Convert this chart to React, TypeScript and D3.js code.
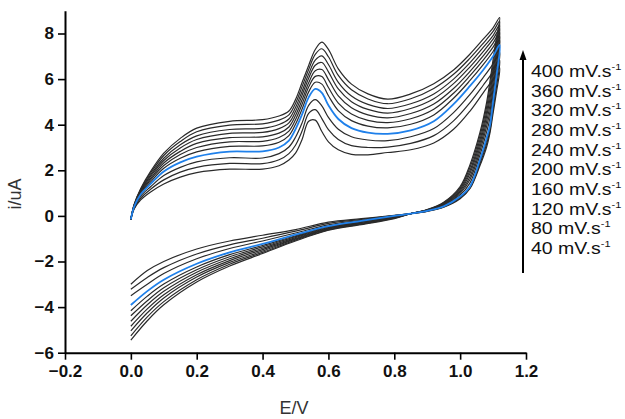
import * as d3 from 'd3';
import { useEffect, useRef } from 'react';

// potentials (V) of the anodic sweep and of the return sweep
const forwardE = [0, 0.01, 0.03, 0.06, 0.1, 0.15, 0.2, 0.3, 0.4, 0.45, 0.48, 0.5, 0.52, 0.54, 0.56, 0.58, 0.6, 0.63, 0.67, 0.72, 0.78, 0.85, 0.92, 0.98, 1.03, 1.07, 1.1, 1.12];
const reverseE = [1.11, 1.1, 1.09, 1.08, 1.06, 1.03, 1.0, 0.95, 0.9, 0.85, 0.8, 0.7, 0.6, 0.5, 0.4, 0.3, 0.2, 0.1, 0.05, 0.0];

// currents (uA), slowest scan first
const forwardI = [
  [-0.15, 0.3, 0.7, 1.05, 1.4, 1.7, 1.9, 2.05, 2.05, 2.2, 2.45, 2.75, 3.35, 4.15, 4.2, 3.7, 3.25, 2.9, 2.7, 2.68, 2.78, 2.9, 3.2, 3.8, 4.6, 5.4, 6.0, 6.5],
  [-0.15, 0.33, 0.78, 1.17, 1.58, 1.92, 2.13, 2.3, 2.29, 2.46, 2.73, 3.1, 3.72, 4.5, 4.66, 4.27, 3.78, 3.35, 3.08, 3.0, 3.02, 3.18, 3.52, 4.17, 4.97, 5.73, 6.33, 6.83],
  [-0.15, 0.37, 0.87, 1.28, 1.77, 2.13, 2.37, 2.55, 2.54, 2.73, 3.02, 3.45, 4.08, 4.85, 5.1, 4.83, 4.32, 3.8, 3.47, 3.33, 3.3, 3.47, 3.83, 4.53, 5.33, 6.07, 6.67, 7.17],
  [-0.15, 0.4, 0.95, 1.4, 1.95, 2.35, 2.6, 2.82, 2.83, 3.0, 3.3, 3.8, 4.45, 5.2, 5.57, 5.4, 4.85, 4.25, 3.85, 3.65, 3.6, 3.75, 4.15, 4.9, 5.7, 6.4, 7.0, 7.5],
  [-0.15, 0.42, 0.99, 1.49, 2.09, 2.53, 2.81, 3.05, 3.07, 3.23, 3.52, 4.02, 4.69, 5.44, 5.86, 5.78, 5.27, 4.62, 4.18, 3.94, 3.86, 4.02, 4.43, 5.16, 5.94, 6.63, 7.21, 7.7],
  [-0.15, 0.43, 1.03, 1.58, 2.21, 2.69, 3.0, 3.25, 3.27, 3.44, 3.72, 4.22, 4.9, 5.65, 6.12, 6.11, 5.63, 4.95, 4.47, 4.19, 4.09, 4.26, 4.68, 5.38, 6.15, 6.83, 7.4, 7.88],
  [-0.15, 0.45, 1.07, 1.65, 2.32, 2.83, 3.18, 3.43, 3.47, 3.63, 3.9, 4.4, 5.09, 5.84, 6.37, 6.42, 5.98, 5.26, 4.74, 4.43, 4.3, 4.49, 4.91, 5.59, 6.34, 7.02, 7.58, 8.05],
  [-0.15, 0.46, 1.1, 1.73, 2.43, 2.98, 3.35, 3.62, 3.66, 3.83, 4.08, 4.58, 5.29, 6.04, 6.61, 6.73, 6.32, 5.57, 5.01, 4.67, 4.51, 4.71, 5.14, 5.8, 6.54, 7.21, 7.75, 8.22],
  [-0.15, 0.47, 1.13, 1.8, 2.53, 3.12, 3.51, 3.79, 3.84, 4.01, 4.25, 4.75, 5.47, 6.22, 6.83, 7.02, 6.64, 5.86, 5.26, 4.89, 4.71, 4.92, 5.35, 6.0, 6.72, 7.39, 7.91, 8.38],
  [-0.15, 0.49, 1.17, 1.88, 2.65, 3.26, 3.69, 3.98, 4.04, 4.2, 4.43, 4.93, 5.67, 6.42, 7.08, 7.33, 6.98, 6.16, 5.53, 5.13, 4.92, 5.14, 5.59, 6.21, 6.92, 7.57, 8.09, 8.54],
  [-0.15, 0.5, 1.2, 1.95, 2.75, 3.4, 3.85, 4.15, 4.22, 4.38, 4.6, 5.1, 5.85, 6.6, 7.3, 7.62, 7.3, 6.45, 5.78, 5.35, 5.12, 5.35, 5.8, 6.4, 7.1, 7.75, 8.25, 8.7],
];

const reverseI = [
  [5.4, 4.5, 3.6, 3.0, 2.2, 1.2, 0.75, 0.38, 0.2, 0.1, 0.02, -0.12, -0.27, -0.6, -0.85, -1.1, -1.45, -2.0, -2.4, -3.0],
  [5.63, 4.67, 3.71, 3.13, 2.29, 1.23, 0.78, 0.39, 0.21, 0.1, 0.01, -0.15, -0.33, -0.67, -0.98, -1.27, -1.67, -2.27, -2.7, -3.22],
  [5.87, 4.83, 3.82, 3.27, 2.37, 1.26, 0.82, 0.41, 0.21, 0.1, 0.01, -0.19, -0.39, -0.75, -1.1, -1.43, -1.88, -2.53, -3.0, -3.5],
  [6.1, 5.0, 3.93, 3.4, 2.46, 1.29, 0.85, 0.42, 0.22, 0.1, 0.0, -0.22, -0.45, -0.82, -1.23, -1.6, -2.1, -2.8, -3.3, -3.91],
  [6.39, 5.32, 4.26, 3.66, 2.66, 1.45, 0.92, 0.45, 0.23, 0.1, -0.02, -0.25, -0.48, -0.87, -1.3, -1.7, -2.24, -2.99, -3.52, -4.16],
  [6.64, 5.6, 4.54, 3.9, 2.84, 1.6, 0.99, 0.48, 0.24, 0.1, -0.04, -0.27, -0.51, -0.91, -1.36, -1.79, -2.36, -3.15, -3.72, -4.38],
  [6.88, 5.86, 4.81, 4.11, 3.01, 1.73, 1.05, 0.5, 0.25, 0.1, -0.06, -0.29, -0.53, -0.95, -1.42, -1.88, -2.47, -3.31, -3.9, -4.62],
  [7.12, 6.12, 5.08, 4.33, 3.17, 1.87, 1.11, 0.53, 0.26, 0.1, -0.07, -0.32, -0.56, -0.99, -1.48, -1.96, -2.58, -3.46, -4.08, -4.84],
  [7.34, 6.36, 5.33, 4.53, 3.33, 1.99, 1.17, 0.55, 0.26, 0.1, -0.09, -0.34, -0.58, -1.02, -1.54, -2.04, -2.68, -3.6, -4.25, -5.04],
  [7.58, 6.62, 5.6, 4.75, 3.5, 2.13, 1.23, 0.58, 0.27, 0.1, -0.1, -0.36, -0.61, -1.06, -1.6, -2.12, -2.8, -3.76, -4.43, -5.26],
  [7.8, 6.86, 5.85, 4.95, 3.65, 2.25, 1.29, 0.6, 0.28, 0.1, -0.12, -0.38, -0.63, -1.1, -1.65, -2.2, -2.9, -3.9, -4.6, -5.45],
];

const highlighted = 3; // the blue trace

const scanLabels = ['400', '360', '320', '280', '240', '200', '160', '120', '80', '40'];
const xTicks = [-0.2, 0, 0.2, 0.4, 0.6, 0.8, 1.0, 1.2];
const yTicks = [-6, -4, -2, 0, 2, 4, 6, 8];

export default function App() {
  const svgRef = useRef<SVGSVGElement>(null);

  useEffect(() => {
    if (!svgRef.current) return;
    const svg = d3.select(svgRef.current);
    svg.selectAll('*').remove();

    const x = d3.scaleLinear().domain([-0.2, 1.2]).range([65, 526]);
    const y = d3.scaleLinear().domain([-6, 9]).range([352.7, 10.7]);

    const font = 'Arial, "Liberation Sans", sans-serif';

    // traces
    const line = d3
      .line<[number, number]>()
      .x((d) => x(d[0]))
      .y((d) => y(d[1]))
      .curve(d3.curveCatmullRom.alpha(0.5));

    const loops = forwardI.map((fw, k) => {
      const pts: [number, number][] = forwardE.map((e, i) => [e, fw[i]]);
      reverseE.forEach((e, i) => pts.push([e, reverseI[k][i]]));
      return { k, pts };
    });
    const order = loops.filter((l) => l.k !== highlighted).concat(loops.filter((l) => l.k === highlighted));

    svg
      .append('g')
      .selectAll('path')
      .data(order)
      .join('path')
      .attr('d', (d) => line(d.pts))
      .attr('fill', 'none')
      .attr('stroke', (d) => (d.k === highlighted ? '#1f80ea' : '#2a2a2a'))
      .attr('stroke-width', (d) => (d.k === highlighted ? 1.8 : 1.2));

    // axes
    const gx = svg.append('g').attr('transform', `translate(0,${y(-6)})`);
    gx.call(
      d3.axisBottom(x).tickValues(d3.range(-0.2, 1.21, 0.1)).tickSize(4).tickSizeOuter(0).tickFormat(() => '')
    );
    gx.call(
      d3.axisBottom(x).tickValues(xTicks).tickSize(7).tickSizeOuter(0).tickPadding(5).tickFormat(d3.format('.1f'))
    );
    const gy = svg.append('g').attr('transform', `translate(${x(-0.2)},0)`);
    gy.call(d3.axisLeft(y).tickValues(d3.range(-6, 9, 1)).tickSize(4).tickSizeOuter(0).tickFormat(() => ''));
    gy.call(d3.axisLeft(y).tickValues(yTicks).tickSize(7).tickSizeOuter(0).tickPadding(4).tickFormat(d3.format('d')));

    [gx, gy].forEach((g) => {
      g.selectAll('path.domain').attr('stroke', '#000').attr('stroke-width', 2);
      g.selectAll('line').attr('stroke', '#000').attr('stroke-width', 1.6);
      g.selectAll('text')
        .attr('fill', '#111')
        .style('font-family', font)
        .style('font-weight', 'bold')
        .style('font-size', '17px');
    });

    // axis titles
    svg
      .append('text')
      .attr('x', 294)
      .attr('y', 414)
      .attr('text-anchor', 'middle')
      .style('font-family', font)
      .style('font-size', '18px')
      .attr('fill', '#333')
      .text('E/V');
    svg
      .append('text')
      .attr('transform', 'translate(21,194) rotate(-90)')
      .attr('text-anchor', 'middle')
      .style('font-family', font)
      .style('font-size', '18px')
      .attr('fill', '#333')
      .text('i/uA');

    // scan-rate arrow
    svg.append('line').attr('x1', 523).attr('x2', 523).attr('y1', 273).attr('y2', 58).attr('stroke', '#000').attr('stroke-width', 2);
    svg.append('path').attr('d', 'M523,50 L519.5,60 L526.5,60 Z').attr('fill', '#000');

    const ly = d3.scalePoint().domain(scanLabels).range([77, 254]);
    const lg = svg
      .append('g')
      .selectAll('text')
      .data(scanLabels)
      .join('text')
      .attr('transform', (d) => `translate(531,${ly(d)}) scale(1.22,1)`)
      .style('font-family', font)
      .style('font-size', '16px')
      .attr('fill', '#111');
    lg.append('tspan').text((d) => `${d} mV.s`);
    lg.append('tspan').attr('dy', -7).style('font-size', '9px').text('-1');
  }, []);

  return (
    <svg
      ref={svgRef}
      width={625}
      height={419}
      style={{ position: 'absolute', left: 0, top: 0, background: '#fff' }}
    />
  );
}
